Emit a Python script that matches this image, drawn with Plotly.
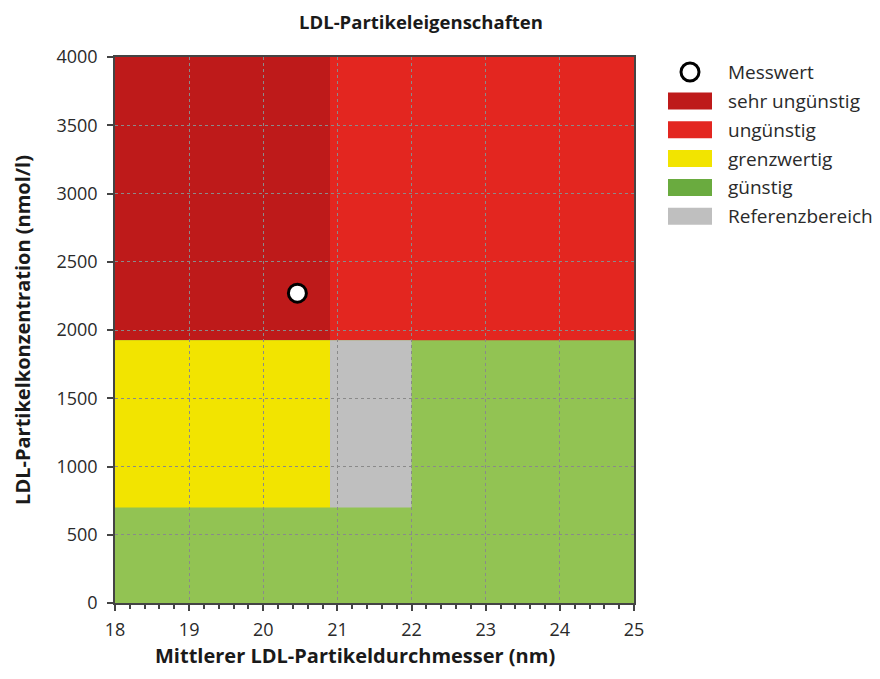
import plotly.graph_objects as go

# Zone boundaries (nm, nmol/l)
zone_names = ["günstig", "sehr ungünstig", "ungünstig", "grenzwertig", "Referenzbereich"]
zone_x0 = [18, 18, 20.9, 18, 20.9]
zone_x1 = [25, 20.9, 25, 20.9, 22]
zone_y0 = [0, 1925, 1925, 700, 700]
zone_y1 = [4000, 4000, 4000, 1925, 1925]
zone_colors = ["#92C353", "#BE1A1A", "#E32620", "#F2E400", "#BFBFBF"]

# Measured value
mess_x = [20.46]
mess_y = [2270]

legend_labels = ["sehr ungünstig", "ungünstig", "grenzwertig", "günstig", "Referenzbereich"]
legend_colors = ["#BE1A1A", "#E32620", "#F2E400", "#6AAB3F", "#BFBFBF"]

x_ticks = [18, 19, 20, 21, 22, 23, 24, 25]
y_ticks = [0, 500, 1000, 1500, 2000, 2500, 3000, 3500, 4000]

FONT = "Open Sans"
TXT = "#2a2a2a"
OFF = 8  # default page body margin

W, H = 880 - 2 * OFF, 679 - 2 * OFF
L = 115 - OFF
T = 57 - OFF
R = W - (634 - OFF)
B = H - (603 - OFF)
pw, ph = W - L - R, H - T - B


def px2paper(px, py):
    return (px - OFF - L) / pw, 1 - (py - OFF - T) / ph


fig = go.Figure()
fig.add_trace(go.Scatter(
    x=mess_x, y=mess_y, mode="markers",
    marker=dict(size=18, color="white", line=dict(color="black", width=3)),
    showlegend=False, hoverinfo="x+y"))

shapes = []
for x0, x1, y0, y1, c in zip(zone_x0, zone_x1, zone_y0, zone_y1, zone_colors):
    shapes.append(dict(type="rect", xref="x", yref="y", x0=x0, x1=x1, y0=y0, y1=y1,
                       fillcolor=c, line=dict(width=0), layer="below"))

annotations = []
# Legend: Messwert marker
cx, cy = px2paper(690, 72)
rx, ry = 9 / pw, 9 / ph
shapes.append(dict(type="circle", xref="paper", yref="paper",
                   x0=cx - rx, x1=cx + rx, y0=cy - ry, y1=cy + ry,
                   fillcolor="white", line=dict(color="black", width=3)))
tx, ty = px2paper(726, 72)
annotations.append(dict(xref="paper", yref="paper", x=tx, y=ty, text="Messwert",
                        showarrow=False, xanchor="left", yanchor="middle",
                        font=dict(family=FONT, size=19, color=TXT)))
for i, (lab, col) in enumerate(zip(legend_labels, legend_colors)):
    yc = 101 + i * 28.8
    x0, y0 = px2paper(668, yc + 8.5)
    x1, y1 = px2paper(712, yc - 8.5)
    shapes.append(dict(type="rect", xref="paper", yref="paper", x0=x0, x1=x1, y0=y0, y1=y1,
                       fillcolor=col, line=dict(width=0)))
    tx, ty = px2paper(726, yc)
    annotations.append(dict(xref="paper", yref="paper", x=tx, y=ty, text=lab,
                            showarrow=False, xanchor="left", yanchor="middle",
                            font=dict(family=FONT, size=19, color=TXT)))

# x-axis title (placed as annotation to match reference position)
tx, ty = px2paper(355, 655)
annotations.append(dict(xref="paper", yref="paper", x=tx, y=ty,
                        text="<b>Mittlerer LDL-Partikeldurchmesser (nm)</b>",
                        showarrow=False, xanchor="center", yanchor="middle",
                        font=dict(family=FONT, size=20, color="#1a1a1a")))

fig.update_layout(
    width=W, height=H,
    margin=dict(l=L, r=R, t=T, b=B, autoexpand=False),
    paper_bgcolor="white", plot_bgcolor="white",
    title=dict(text="<b>LDL-Partikeleigenschaften</b>", x=(421 - OFF) / W, xanchor="center",
               y=1 - (23 - OFF) / H, yanchor="middle",
               font=dict(family=FONT, size=18.5, color="#1a1a1a")),
    shapes=shapes, annotations=annotations, showlegend=False,
    font=dict(family=FONT, size=18, color=TXT),
)
fig.update_xaxes(
    range=[18, 25], tickvals=x_ticks, ticks="outside", ticklen=6, tickwidth=1.5,
    tickcolor="#444444", showline=True, linecolor="#444444", linewidth=1.5, mirror=True,
    showgrid=True, gridcolor="#8a8a8a", griddash="dot", gridwidth=1, zeroline=False,
    minor=dict(dtick=0.2, ticks="outside", ticklen=4, tickcolor="#444444", showgrid=False),
    tickfont=dict(family=FONT, size=18, color=TXT), automargin=False,
    ticklabelstandoff=4,
)
fig.update_yaxes(
    range=[0, 4000], tickvals=y_ticks, ticks="outside", ticklen=6, tickwidth=1.5,
    tickcolor="#444444", showline=True, linecolor="#444444", linewidth=1.5, mirror=True,
    showgrid=True, gridcolor="#8a8a8a", griddash="dot", gridwidth=1, zeroline=False,
    tickfont=dict(family=FONT, size=18, color=TXT), automargin=False,
    ticklabelstandoff=6,
    title=dict(text="<b>LDL-Partikelkonzentration (nmol/l)</b>", standoff=20,
               font=dict(family=FONT, size=20, color="#1a1a1a")),
)

fig.write_html("out.html")
